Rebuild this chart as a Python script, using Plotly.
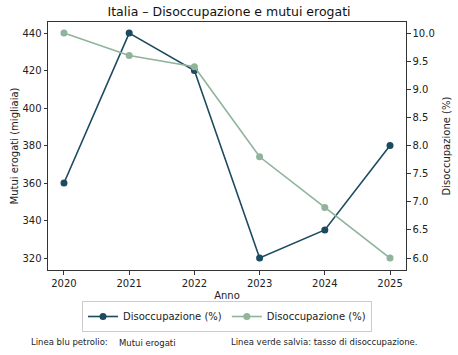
import plotly.graph_objects as go

years = [2020, 2021, 2022, 2023, 2024, 2025]
mutui = [360, 440, 420, 320, 335, 380]
disocc = [10.0, 9.6, 9.4, 7.8, 6.9, 6.0]
left_ticks = [320, 340, 360, 380, 400, 420, 440]
right_ticks = [6.0, 6.5, 7.0, 7.5, 8.0, 8.5, 9.0, 9.5, 10.0]

BLUE = "#1c4a5f"
SAGE = "#8fb39b"
FONT = "DejaVu Sans"

W, H = 458, 355
L, R, T, B = 48, 406, 22, 270

fig = go.Figure()
fig.add_trace(go.Scatter(x=years, y=mutui, mode="lines+markers", name="Disoccupazione (%)",
                         line=dict(color=BLUE, width=1.6), marker=dict(color=BLUE, size=7), yaxis="y"))
fig.add_trace(go.Scatter(x=years, y=disocc, mode="lines+markers", name="Disoccupazione (%)",
                         line=dict(color=SAGE, width=1.6), marker=dict(color=SAGE, size=7), yaxis="y2"))

axis_common = dict(showline=True, linecolor="#333", linewidth=1, ticks="outside", ticklen=3.5,
                   tickcolor="#333", showgrid=False, zeroline=False,
                   tickfont=dict(family=FONT, size=10, color="#222"))

fig.update_layout(
    width=W, height=H,
    margin=dict(l=L, r=W - R, t=T, b=H - B, autoexpand=False),
    paper_bgcolor="white", plot_bgcolor="white",
    font=dict(family=FONT, color="#222"),
    title=dict(text="Italia – Disoccupazione e mutui erogati", x=0.5, xanchor="center",
               y=1 - 12 / H, yanchor="middle", font=dict(family=FONT, size=12.5, color="#111")),
    xaxis=dict(range=[2019.755, 2025.245], tickvals=years, mirror=True,
               title=dict(text="Anno", font=dict(family=FONT, size=10), standoff=4), **axis_common),
    yaxis=dict(range=[313.6, 445.9], tickvals=left_ticks,
               title=dict(text="Mutui erogati (migliaia)", font=dict(family=FONT, size=10), standoff=1),
               **axis_common),
    yaxis2=dict(range=[5.787, 10.196], tickvals=right_ticks, tickformat=".1f", overlaying="y", side="right",
                title=dict(text="Disoccupazione (%)", font=dict(family=FONT, size=10), standoff=9),
                **axis_common),
    legend=dict(orientation="h", x=0.5, xanchor="center", y=-(301 - B) / (B - T),
                yanchor="top", bordercolor="#ccc", borderwidth=1, bgcolor="white",
                font=dict(family=FONT, size=10, color="#222"), itemwidth=30, tracegroupgap=0),
    showlegend=True,
)

def px(xp):
    return (xp - L) / (R - L)

fig.add_annotation(text="Linea blu petrolio:", xref="paper", yref="paper", x=px(29), y=-(342 - B) / (B - T),
                   xanchor="left", yanchor="middle", showarrow=False, font=dict(family=FONT, size=8.5, color="#222"))
fig.add_annotation(text="Mutui erogati", xref="paper", yref="paper", x=px(117), y=-(343 - B) / (B - T),
                   xanchor="left", yanchor="middle", showarrow=False, font=dict(family=FONT, size=8.5, color="#222"))
fig.add_annotation(text="Linea verde salvia: tasso di disoccupazione.", xref="paper", yref="paper", x=px(229),
                   y=-(342 - B) / (B - T), xanchor="left", yanchor="middle", showarrow=False,
                   font=dict(family=FONT, size=8.5, color="#222"))

fig.write_html("out.html")
